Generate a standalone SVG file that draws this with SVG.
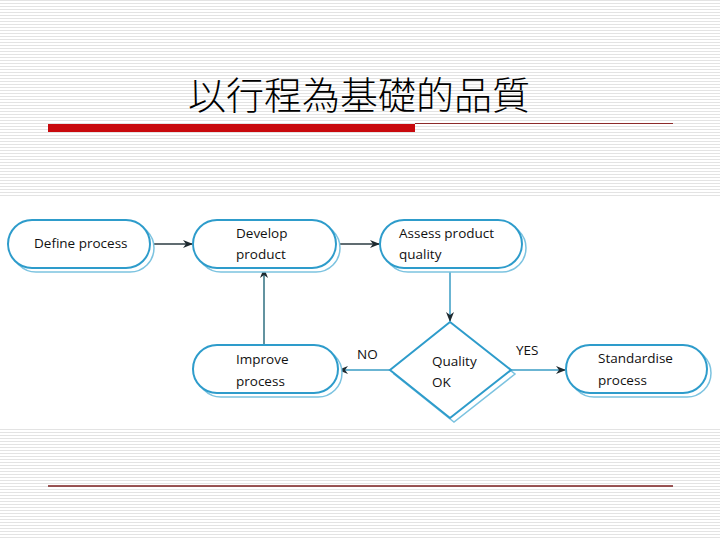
<svg xmlns="http://www.w3.org/2000/svg" width="720" height="540" viewBox="0 0 720 540">
<defs>
<pattern id="stripes" width="8" height="3" patternUnits="userSpaceOnUse">
<rect width="8" height="3" fill="#ffffff"/>
<rect y="0" width="8" height="1" fill="#e3e3e3"/>
</pattern>
<marker id="ah" viewBox="0 0 10 10" refX="9" refY="5" markerWidth="10" markerHeight="10" markerUnits="userSpaceOnUse" orient="auto">
<path d="M0,1 L10,5 L0,9 L3,5 Z" fill="#1e2a30"/>
</marker>
<style>
.pill{fill:#ffffff;stroke:#2e9ccb;stroke-width:2}
.shadow{fill:#ffffff;stroke:#7cc3e0;stroke-width:1.5}
.lbl{font-family:"Open Sans","DejaVu Sans",sans-serif;font-size:13.5px;font-weight:500;fill:#111}
.dark{stroke:#2b3b42;stroke-width:1.5;fill:none}
.blue{stroke:#3a9cc4;stroke-width:1.5;fill:none}
.teal{stroke:#2f6f80;stroke-width:1.5;fill:none}
</style>
</defs>
<rect width="720" height="540" fill="url(#stripes)"/>
<rect x="0" y="196" width="720" height="232" fill="#ffffff"/>
<text x="359" y="109" text-anchor="middle" font-family="'Noto Sans CJK TC','Noto Sans CJK SC',serif" font-size="38" font-weight="300" fill="#000">以行程為基礎的品質</text>
<rect x="48" y="124" width="367" height="8" fill="#c8090d"/>
<line x1="415" y1="123.5" x2="673" y2="123.5" stroke="#8c2a2a" stroke-width="1"/>
<line x1="48" y1="486" x2="673" y2="486" stroke="#7a1e1e" stroke-width="1.5"/>

<g id="connectors">
<line class="dark" x1="150" y1="244" x2="192" y2="244" marker-end="url(#ah)"/>
<line class="dark" x1="336" y1="244" x2="379" y2="244" marker-end="url(#ah)"/>
<line class="blue" x1="450" y1="268" x2="450" y2="321" marker-end="url(#ah)"/>
<line class="blue" x1="390" y1="370" x2="339" y2="370" marker-end="url(#ah)"/>
<line class="blue" x1="511" y1="370" x2="565" y2="370" marker-end="url(#ah)"/>
<line class="teal" x1="264" y1="345" x2="264" y2="269" marker-end="url(#ah)"/>
<text class="lbl" x="357" y="359">NO</text>
<text class="lbl" x="516" y="355">YES</text>
</g>

<g id="define">
<rect class="shadow" x="12" y="224" width="142" height="48" rx="24"/>
<rect class="pill" x="8" y="220" width="142" height="48" rx="24"/>
<text class="lbl" x="34" y="248">Define process</text>
</g>
<g id="develop">
<rect class="shadow" x="197" y="224" width="143" height="48" rx="24"/>
<rect class="pill" x="193" y="220" width="143" height="48" rx="24"/>
<text class="lbl" x="236" y="238">Develop</text>
<text class="lbl" x="236" y="259">product</text>
</g>
<g id="assess">
<rect class="shadow" x="384" y="224" width="142" height="48" rx="24"/>
<rect class="pill" x="380" y="220" width="142" height="48" rx="24"/>
<text class="lbl" x="399" y="238">Assess product</text>
<text class="lbl" x="399" y="259">quality</text>
</g>
<g id="improve">
<rect class="shadow" x="197" y="349" width="145" height="48" rx="24"/>
<rect class="pill" x="193" y="345" width="145" height="48" rx="24"/>
<text class="lbl" x="236" y="364">Improve</text>
<text class="lbl" x="236" y="386">process</text>
</g>
<g id="quality">
<polygon class="shadow" points="454,326 515,374 454,422 394,374"/>
<polygon class="pill" points="450,322 511,370 450,418 390,370"/>
<text class="lbl" x="432" y="366">Quality</text>
<text class="lbl" x="432" y="387">OK</text>
</g>
<g id="standardise">
<rect class="shadow" x="570" y="349" width="141" height="48" rx="24"/>
<rect class="pill" x="566" y="345" width="141" height="48" rx="24"/>
<text class="lbl" x="598" y="363">Standardise</text>
<text class="lbl" x="598" y="385">process</text>
</g>
</svg>
